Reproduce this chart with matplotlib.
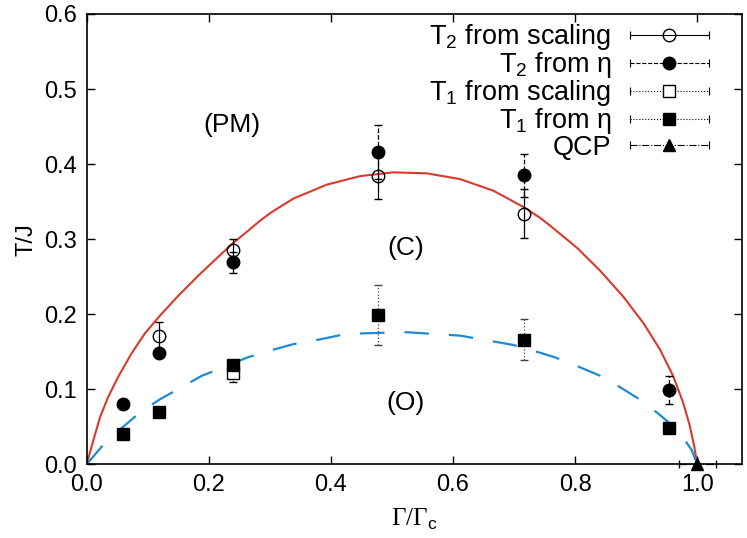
import matplotlib
matplotlib.use('Agg')
import matplotlib.pyplot as plt
from matplotlib.legend_handler import HandlerBase
from matplotlib.lines import Line2D

plt.rcParams['font.family'] = ['Liberation Sans', 'DejaVu Sans']
plt.rcParams['mathtext.fontset'] = 'custom'
plt.rcParams['mathtext.rm'] = 'Liberation Serif'
plt.rcParams['mathtext.sf'] = 'Liberation Sans'

# values
t2_scal_x = [0.119, 0.239, 0.477, 0.716]
t2_scal_y = [0.171, 0.285, 0.384, 0.334]
t2_scal_err = [0.018, 0.015, 0.030, 0.033]

t2_eta_x = [0.059, 0.119, 0.239, 0.477, 0.716, 0.954]
t2_eta_y = [0.081, 0.148, 0.269, 0.416, 0.385, 0.099]
t2_eta_err = [0.0, 0.0, 0.014, 0.036, 0.029, 0.019]

t1_scal_x = [0.239]
t1_scal_y = [0.122]
t1_scal_err = [0.013]

t1_eta_x = [0.059, 0.119, 0.239, 0.477, 0.716, 0.954]
t1_eta_y = [0.040, 0.070, 0.132, 0.199, 0.166, 0.048]
t1_eta_err = [0.0, 0.0, 0.0, 0.040, 0.027, 0.0]

qcp_x = [1.0]
qcp_y = [0.0]
qcp_xerr = [0.03]

# phase boundaries, points
t2_curve_x = [0.0, 0.011, 0.022, 0.0354, 0.052, 0.0737, 0.0955, 0.120, 0.150, 0.183,
              0.2156, 0.2375, 0.270, 0.284, 0.303, 0.3385, 0.393, 0.448, 0.502, 0.557,
              0.6116, 0.666, 0.715, 0.7426, 0.759, 0.792, 0.805, 0.841, 0.879, 0.912,
              0.939, 0.961, 0.977, 0.988, 0.995, 1.0]
t2_curve_y = [0.0, 0.032, 0.063, 0.090, 0.117, 0.148, 0.1745, 0.198, 0.2245, 0.2515,
              0.2765, 0.293, 0.315, 0.3245, 0.336, 0.354, 0.3725, 0.384, 0.389, 0.3877,
              0.380, 0.3646, 0.343, 0.3285, 0.318, 0.296, 0.287, 0.258, 0.2233, 0.188,
              0.153, 0.117, 0.082, 0.051, 0.0245, 0.0]
t1_curve_x = [0.0, 0.027, 0.057, 0.087, 0.120, 0.1556, 0.188, 0.2266, 0.262, 0.300,
              0.338, 0.377, 0.415, 0.453, 0.524, 0.612, 0.699, 0.7426, 0.767, 0.803,
              0.841, 0.874, 0.909, 0.939, 0.969, 0.991, 1.0]
t1_curve_y = [0.0, 0.0257, 0.048, 0.0688, 0.0866, 0.1026, 0.1177, 0.130, 0.142, 0.1514,
              0.160, 0.1656, 0.172, 0.1745, 0.176, 0.1714, 0.159, 0.1487, 0.1425, 0.131,
              0.118, 0.1026, 0.0848, 0.0657, 0.0448, 0.019, 0.0]

legend_labels = [r'T$_\mathsf{2}$ from scaling', r'T$_\mathsf{2}$ from η',
                 r'T$_\mathsf{1}$ from scaling', r'T$_\mathsf{1}$ from η', 'QCP']


class KeyHandler(HandlerBase):
    """gnuplot-like key entry: horizontal error bar with caps, marker in the middle"""
    def create_artists(self, legend, orig, xdescent, ydescent, width, height, fontsize, trans):
        y = height / 2 - ydescent
        x0, x1 = -xdescent, -xdescent + width
        bar = Line2D([x0, x1], [y, y], color='black', lw=0.8, linestyle=orig.get_linestyle())
        caps = Line2D([x0, x1], [y, y], linestyle='none', marker='|', markersize=6,
                      color='black', mew=0.8)
        mark = Line2D([(x0 + x1) / 2], [y], linestyle='none', marker=orig.get_marker(),
                      markersize=orig.get_markersize(), mfc=orig.get_markerfacecolor(),
                      mec='black', mew=1.0)
        for a in (bar, caps, mark):
            a.set_transform(trans)
        return [bar, caps, mark]


fig, ax = plt.subplots(figsize=(7.47, 5.38), dpi=100)
fig.subplots_adjust(left=0.116, right=0.993, bottom=0.137, top=0.974)

ax.plot(t2_curve_x, t2_curve_y, color='#d93a2b', lw=1.5, zorder=2)
ax.plot(t1_curve_x, t1_curve_y, color='#1c8bd2', lw=1.6, linestyle=(0, (11, 9)), zorder=2)


def draw(x, y, yerr=None, xerr=None, marker='o', mfc='black', ms=9, ls='-', ecolor='black'):
    eb = ax.errorbar(x, y, yerr=yerr, xerr=xerr, fmt=marker, ms=ms, mfc=mfc, mec='black',
                     mew=1.0, ecolor=ecolor, elinewidth=0.9, capsize=3, capthick=0.9, zorder=3)
    for col in eb[2]:
        col.set_linestyle(ls)
    for a in [eb[0]] + list(eb[1]) + list(eb[2]):
        a.set_clip_on(False)
    return eb


draw(t1_scal_x, t1_scal_y, yerr=t1_scal_err, marker='s', mfc='white', ms=9, ls=':')
draw(t1_eta_x, t1_eta_y, yerr=t1_eta_err, marker='s', mfc='black', ms=9, ls=':', ecolor='#444444')
draw(t2_eta_x, t2_eta_y, yerr=t2_eta_err, marker='o', mfc='black', ms=9, ls='--')
draw(t2_scal_x, t2_scal_y, yerr=t2_scal_err, marker='o', mfc='none', ms=9, ls='-')
draw(qcp_x, qcp_y, xerr=qcp_xerr, marker='^', mfc='black', ms=9, ls='-.')

ax.text(0.238, 0.452, '(PM)', fontsize=19, ha='center', va='center')
ax.text(0.522, 0.288, '(C)', fontsize=19, ha='center', va='center')
ax.text(0.522, 0.082, '(O)', fontsize=19, ha='center', va='center')

ax.set_xlim(0, 1.073)
ax.set_ylim(0, 0.6)
ax.set_xticks([0.0, 0.2, 0.4, 0.6, 0.8, 1.0])
ax.set_yticks([0.0, 0.1, 0.2, 0.3, 0.4, 0.5, 0.6])
ax.xaxis.set_major_formatter(matplotlib.ticker.FormatStrFormatter('%.1f'))
ax.yaxis.set_major_formatter(matplotlib.ticker.FormatStrFormatter('%.1f'))
ax.tick_params(direction='in', top=True, right=True, length=6, width=1.0,
               labelsize=17, pad=7)
for s in ax.spines.values():
    s.set_linewidth(1.2)

ax.set_xlabel(r'$\mathrm{\Gamma/\Gamma}_\mathsf{c}$', fontsize=18, labelpad=8)
ax.set_ylabel('T/J', fontsize=17, labelpad=5)

proxies = [
    Line2D([], [], ls='-', marker='o', mfc='none', ms=9),
    Line2D([], [], ls='--', marker='o', mfc='black', ms=9),
    Line2D([], [], ls=':', marker='s', mfc='white', ms=9),
    Line2D([], [], ls=':', marker='s', mfc='black', ms=9),
    Line2D([], [], ls='-.', marker='^', mfc='black', ms=9),
]
ax.legend(proxies, legend_labels, handler_map={Line2D: KeyHandler()}, loc='upper right',
          bbox_to_anchor=(0.963, 1.0), frameon=False, fontsize=19.5, markerfirst=False,
          handlelength=2.95, handletextpad=0.66, labelspacing=-0.07, borderaxespad=0.1,
          borderpad=0.2)

fig.savefig('out.png', dpi=100)
